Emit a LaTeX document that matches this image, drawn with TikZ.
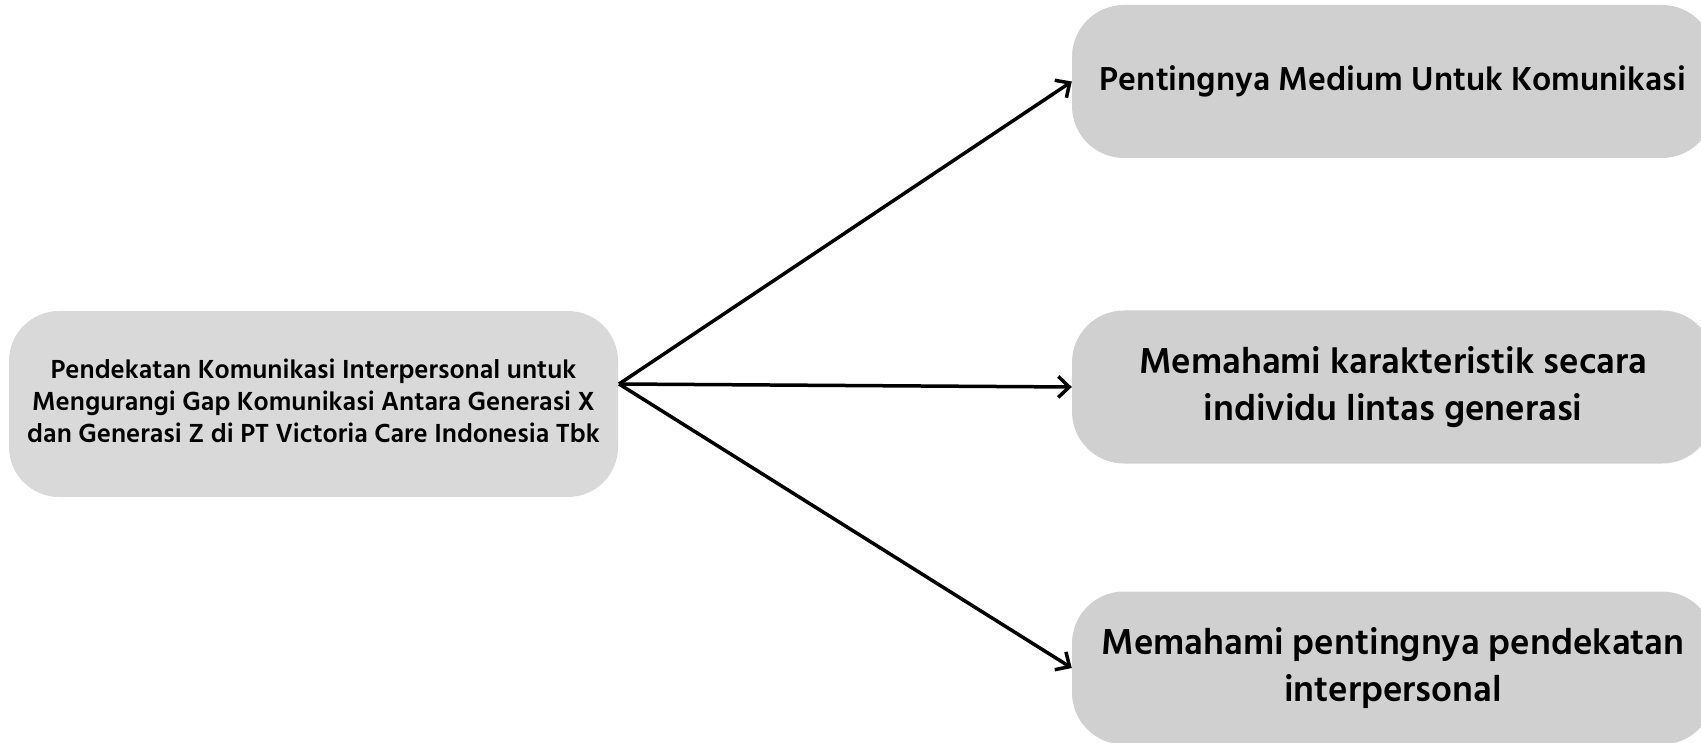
\documentclass[tikz,border=0pt]{standalone}
\usepackage{fontspec}
\setmainfont{Hind Siliguri}
\usetikzlibrary{arrows.meta}
\definecolor{leftgray}{HTML}{D9D9D9}
\definecolor{rightgray}{HTML}{D0D0D0}
\begin{document}
\begin{tikzpicture}[x=1pt,y=-1pt,
  srcbox/.style={fill=leftgray, rounded corners=50pt, minimum width=609pt, minimum height=186pt, inner sep=0pt, align=center, font=\fontsize{26.8}{32.5}\selectfont\bfseries},
  tgtbox/.style={fill=rightgray, rounded corners=52pt, minimum width=642pt, minimum height=153pt, inner sep=0pt, align=center, font=\fontsize{37}{47}\selectfont\bfseries},
  link/.style={line width=3.5pt, -{Straight Barb[length=11pt,width=21pt,line width=3.5pt]}}]
\useasboundingbox (0,0) rectangle (1701,743);
\node[srcbox] (src) at (313.5,404) {\raisebox{2pt}{\begin{tabular}{@{}c@{}}Pendekatan Komunikasi Interpersonal untuk\\Mengurangi Gap Komunikasi Antara Generasi X\\dan Generasi Z di PT Victoria Care Indonesia Tbk\end{tabular}}};
\node[tgtbox, font=\fontsize{34}{47}\selectfont\bfseries] (t1) at (1393,81.5) {Pentingnya Medium Untuk Komunikasi};
\node[tgtbox] (t2) at (1393,387) {Memahami karakteristik secara\\individu lintas generasi};
\node[tgtbox] (t3) at (1393,668) {Memahami pentingnya pendekatan\\interpersonal};
\coordinate (start) at (619,384);
\draw[link] (start) -- (t1.west);
\draw[link] (start) -- (t2.west);
\draw[link] (start) -- (t3.west);
\end{tikzpicture}
\end{document}
